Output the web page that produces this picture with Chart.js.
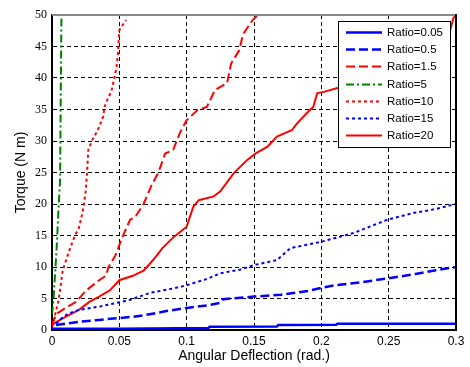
<!DOCTYPE html>
<html>
<head>
<meta charset="utf-8">
<title>Torque vs Angular Deflection</title>
<script src="https://cdn.jsdelivr.net/npm/chart.js@4.4.1/dist/chart.umd.min.js"></script>
<style>
  html, body { margin: 0; padding: 0; background: #fff; }
  #wrap { width: 470px; height: 367px; }
</style>
</head>
<body>
<div id="wrap"><canvas id="torqueChart" width="470" height="367"></canvas></div>
<script>
// --- data ---
const seriesLabels = ['Ratio=0.05', 'Ratio=0.5', 'Ratio=1.5', 'Ratio=5', 'Ratio=10', 'Ratio=15', 'Ratio=20'];
const xTickLabels = ['0', '0.05', '0.1', '0.15', '0.2', '0.25', '0.3'];
const yTickLabels = ['0', '5', '10', '15', '20', '25', '30', '35', '40', '45', '50'];

const ratio0p05X = [0, 0.05, 0.116, 0.117, 0.167, 0.168, 0.211, 0.212, 0.3];
const ratio0p05Y = [0.2, 0.2, 0.3, 0.5, 0.55, 0.8, 0.85, 1.0, 1.0];

const ratio0p5X = [0.003, 0.01, 0.02, 0.035, 0.05, 0.06, 0.07, 0.085, 0.1, 0.115, 0.125, 0.127, 0.15, 0.17, 0.19, 0.2, 0.21, 0.23, 0.25, 0.27, 0.285, 0.3];
const ratio0p5Y = [0.8, 1.0, 1.3, 1.6, 1.9, 2.1, 2.4, 3.0, 3.5, 3.9, 4.3, 4.9, 5.3, 5.6, 6.2, 6.7, 7.1, 7.6, 8.2, 8.9, 9.5, 10.0];

const ratio1p5X = [0, 0.003, 0.01, 0.018, 0.025, 0.035, 0.04, 0.042, 0.047, 0.05, 0.054, 0.058, 0.062, 0.068, 0.074, 0.079, 0.084, 0.09, 0.095, 0.1, 0.108, 0.115, 0.121, 0.13, 0.133, 0.139, 0.142, 0.149, 0.153];
const ratio1p5Y = [0.8, 2.5, 3.5, 4.5, 6.2, 7.9, 8.6, 10.0, 11.8, 13.5, 15.6, 17.5, 18.0, 20.0, 23.0, 25.0, 28.0, 28.6, 31.3, 33.3, 34.9, 35.4, 38.1, 39.2, 42.3, 44.4, 47.0, 49.2, 50.0];

const ratio5X = [0, 0.001, 0.002, 0.0035, 0.0047, 0.006, 0.0063, 0.0066, 0.007];
const ratio5Y = [2.5, 4.5, 7.9, 13.2, 18.6, 23.8, 32.0, 40.0, 49.5];

const ratio10X = [0, 0.003, 0.005, 0.008, 0.013, 0.017, 0.02, 0.023, 0.025, 0.026, 0.027, 0.03, 0.034, 0.038, 0.039, 0.042, 0.044, 0.046, 0.048, 0.049, 0.0495, 0.05, 0.055];
const ratio10Y = [0.5, 3.0, 4.8, 9.5, 12.7, 15.0, 16.2, 19.0, 22.0, 24.9, 28.6, 30.2, 31.7, 33.9, 35.4, 37.0, 37.8, 39.7, 41.8, 43.9, 46.0, 47.6, 49.2];

const ratio15X = [0.003, 0.008, 0.012, 0.02, 0.035, 0.05, 0.058, 0.073, 0.09, 0.1, 0.115, 0.125, 0.14, 0.15, 0.167, 0.177, 0.2, 0.224, 0.249, 0.269, 0.285, 0.3];
const ratio15Y = [1.0, 2.0, 2.6, 3.2, 3.7, 4.4, 4.8, 5.9, 6.6, 7.1, 8.1, 9.0, 9.6, 10.3, 11.1, 13.0, 14.0, 15.4, 17.5, 18.6, 19.2, 20.0];

const ratio20X = [0, 0.005, 0.01, 0.02, 0.028, 0.035, 0.043, 0.05, 0.06, 0.068, 0.073, 0.077, 0.082, 0.09, 0.1, 0.105, 0.109, 0.12, 0.125, 0.135, 0.145, 0.151, 0.16, 0.167, 0.178, 0.182, 0.19, 0.194, 0.197, 0.202, 0.212, 0.24, 0.27, 0.295, 0.298, 0.3];
const ratio20Y = [0.8, 1.5, 2.1, 3.2, 4.5, 5.3, 6.3, 7.9, 8.6, 9.4, 10.6, 11.6, 13.0, 14.7, 16.4, 19.6, 20.6, 21.2, 22.0, 24.9, 27.0, 28.0, 29.1, 30.7, 31.7, 32.8, 34.6, 35.4, 37.6, 37.8, 38.4, 40.5, 44.0, 47.0, 49.5, 50.0];

const seriesX = [ratio0p05X, ratio0p5X, ratio1p5X, ratio5X, ratio10X, ratio15X, ratio20X];
const seriesY = [ratio0p05Y, ratio0p5Y, ratio1p5Y, ratio5Y, ratio10Y, ratio15Y, ratio20Y];

// line looks (kept apart from the values)
const lineColors = ['#0000ff', '#0000ff', '#ff0000', '#008000', '#ff0000', '#0000ff', '#ff0000'];
const lineDashes = [[], [9, 4], [9, 4], [8, 3, 2, 3], [3, 3], [3, 3], []];
const lineWidths = [2.5, 2.5, 2, 2, 2, 2, 2];

function toPoints(xs, ys) {
    return xs.map((x, i) => ({ x: x, y: ys[i] }));
}

const datasets = seriesLabels.map((label, i) => ({
    label: label,
    data: toPoints(seriesX[i], seriesY[i]),
    borderColor: lineColors[i],
    borderDash: lineDashes[i],
    borderWidth: lineWidths[i],
    borderCapStyle: 'butt',
    pointRadius: 0,
    tension: 0,
    fill: false
}));

// box round the plot: grey top edge, black right edge
const plotFrame = {
    id: 'plotFrame',
    afterDatasetsDraw(chart) {
        const { ctx, chartArea: a } = chart;
        ctx.save();
        ctx.lineWidth = 2;
        ctx.strokeStyle = '#888';
        ctx.beginPath();
        ctx.moveTo(a.left, a.top);
        ctx.lineTo(a.right, a.top);
        ctx.stroke();
        ctx.strokeStyle = '#000';
        ctx.beginPath();
        ctx.moveTo(a.right, a.top - 1);
        ctx.lineTo(a.right, a.bottom);
        ctx.stroke();
        ctx.restore();
    }
};

// legend drawn inside the plot, on white, covering the lines under it
const boxLegend = {
    id: 'boxLegend',
    afterDatasetsDraw(chart) {
        const { ctx, chartArea: a } = chart;
        const w = 112, h = 126;
        const right = a.right - 6, top = a.top + 6;
        const left = right - w;
        const rowH = 17.2;
        ctx.save();
        ctx.fillStyle = '#fff';
        ctx.fillRect(left, top, w, h);
        ctx.lineWidth = 1;
        ctx.strokeStyle = '#000';
        ctx.strokeRect(left + 0.5, top + 0.5, w, h);
        ctx.font = '11.5px "Liberation Sans", Arial, sans-serif';
        ctx.textBaseline = 'middle';
        ctx.textAlign = 'left';
        chart.data.datasets.forEach((ds, i) => {
            const y = Math.round(top + 11 + i * rowH) + 0.5;
            ctx.strokeStyle = ds.borderColor;
            ctx.lineWidth = ds.borderWidth;
            ctx.setLineDash(ds.borderDash);
            ctx.beginPath();
            ctx.moveTo(left + 8, y);
            ctx.lineTo(left + 44, y);
            ctx.stroke();
            ctx.setLineDash([]);
            ctx.fillStyle = '#000';
            ctx.fillText(ds.label, left + 49, y);
        });
        ctx.restore();
    }
};

const ctx = document.getElementById('torqueChart');
new Chart(ctx, {
    type: 'line',
    data: { datasets: datasets },
    plugins: [plotFrame, boxLegend],
    options: {
        responsive: false,
        animation: false,
        events: [],
        layout: { padding: { top: 15, right: 14, left: 0, bottom: 0 } },
        plugins: {
            legend: { display: false },
            tooltip: { enabled: false }
        },
        scales: {
            x: {
                type: 'linear',
                min: 0,
                max: 0.3,
                afterFit: (scale) => { scale.height = 37; },
                ticks: {
                    stepSize: 0.05,
                    padding: 4,
                    color: '#000',
                    font: { family: '"Liberation Sans", Arial, sans-serif', size: 12 },
                    maxRotation: 0,
                    callback: (value, index) => xTickLabels[index] ?? value
                },
                grid: {
                    drawTicks: false,
                    lineWidth: 1,
                    color: (c) => (c.tick && Math.abs(c.tick.value - 0.3) < 1e-9) ? 'rgba(0,0,0,0)' : '#000'
                },
                border: { display: true, color: '#000', width: 2, dash: [4, 3] },
                title: {
                    display: true,
                    text: 'Angular Deflection (rad.)',
                    color: '#000',
                    font: { family: '"Liberation Sans", Arial, sans-serif', size: 14 },
                    padding: { top: 0, bottom: 2 }
                }
            },
            y: {
                type: 'linear',
                min: 0,
                max: 50,
                afterFit: (scale) => { scale.width = 52; },
                ticks: {
                    stepSize: 5,
                    padding: 5,
                    color: '#000',
                    font: { family: '"Liberation Serif", "Times New Roman", serif', size: 12 },
                    callback: (value, index) => yTickLabels[index] ?? value
                },
                grid: {
                    drawTicks: false,
                    lineWidth: 1,
                    color: (c) => (c.tick && c.tick.value === 50) ? 'rgba(0,0,0,0)' : '#000'
                },
                border: { display: true, color: '#000', width: 2, dash: [4, 3] },
                title: {
                    display: true,
                    text: 'Torque (N m)',
                    color: '#000',
                    font: { family: '"Liberation Sans", Arial, sans-serif', size: 14 },
                    padding: { top: 13, bottom: 0 }
                }
            }
        }
    }
});
</script>
</body>
</html>
